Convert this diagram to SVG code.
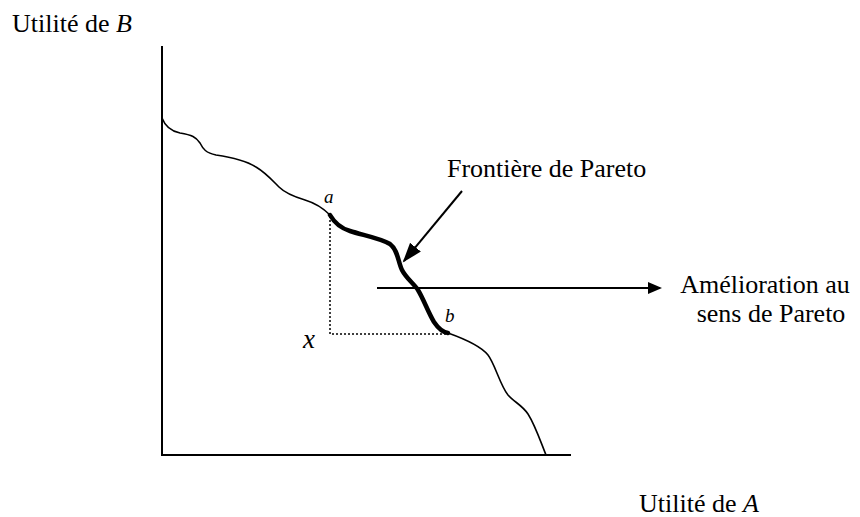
<svg xmlns="http://www.w3.org/2000/svg" width="860" height="517" viewBox="0 0 860 517">
<style>
text{font-family:"Liberation Serif","Times New Roman",serif;fill:#000}
.lbl{font-size:26px}
.it{font-style:italic}
.axis{stroke:#000;stroke-width:2;fill:none}
.thin{stroke:#000;stroke-width:1.6;fill:none}
.thick{stroke:#000;stroke-width:4.5;fill:none;stroke-linecap:round}
.dot{stroke:#000;stroke-width:1.5;stroke-dasharray:2 2;fill:none}
.arr{stroke:#000;stroke-width:2;fill:none}
</style>
<defs>
<marker id="ah" markerUnits="userSpaceOnUse" markerWidth="22" markerHeight="16" refX="18" refY="7" orient="auto">
<path d="M0,0 L20,7 L0,14 z" fill="#000"/>
</marker>
<marker id="ah2" markerUnits="userSpaceOnUse" markerWidth="16" markerHeight="14" refX="12" refY="6" orient="auto">
<path d="M0,0 L14,6 L0,12 z" fill="#000"/>
</marker>
</defs>
<rect width="860" height="517" fill="#fff"/>
<g id="axes">
<line class="axis" x1="162" y1="46" x2="162" y2="455"/>
<line class="axis" x1="161" y1="455" x2="571" y2="455"/>
<text class="lbl" x="12" y="32">Utilité de <tspan class="it">B</tspan></text>
<text class="lbl" x="639" y="512">Utilité de <tspan class="it">A</tspan></text>
</g>
<g id="curve">
<path class="thin" d="M162,118 C165,126 170,131 180,133 C192,135 196,137 200,143 C203,149 206,153 216,155 C230,157 245,160 256,167 C266,173 272,180 279,187 C285,193 295,197 305,200 C315,203 323,208 330,215"/>
<path class="thick" d="M330,215 C334,222 340,228 350,231 C362,235 380,238 390,244 C398,250 398,262 402,270 C406,278 414,284 418,290 C424,300 428,312 434,322 C438,328 442,332 448,333"/>
<path class="thin" d="M448,333 C462,338 480,345 488,355 C495,364 500,385 508,395 C514,402 522,405 528,414 C535,425 540,440 546,455"/>
</g>
<g id="point-a">
<text class="it" x="324" y="203" font-size="19">a</text>
</g>
<g id="point-b">
<text class="it" x="445" y="322" font-size="19">b</text>
</g>
<g id="point-x">
<text class="it" x="303" y="348" font-size="27">x</text>
</g>
<g id="pareto-label">
<text class="lbl" x="447" y="177">Frontière de Pareto</text>
</g>
<g id="improvement-label">
<text class="lbl" x="765" y="293" text-anchor="middle">Amélioration au</text>
<text class="lbl" x="771" y="322" text-anchor="middle">sens de Pareto</text>
</g>
<g id="connectors">
<path class="dot" d="M330,216 L330,334 L448,334"/>
<line class="arr" x1="462" y1="191" x2="404" y2="261" marker-end="url(#ah)"/>
<line class="arr" x1="377" y1="288" x2="660" y2="288" marker-end="url(#ah2)"/>
</g>
</svg>
